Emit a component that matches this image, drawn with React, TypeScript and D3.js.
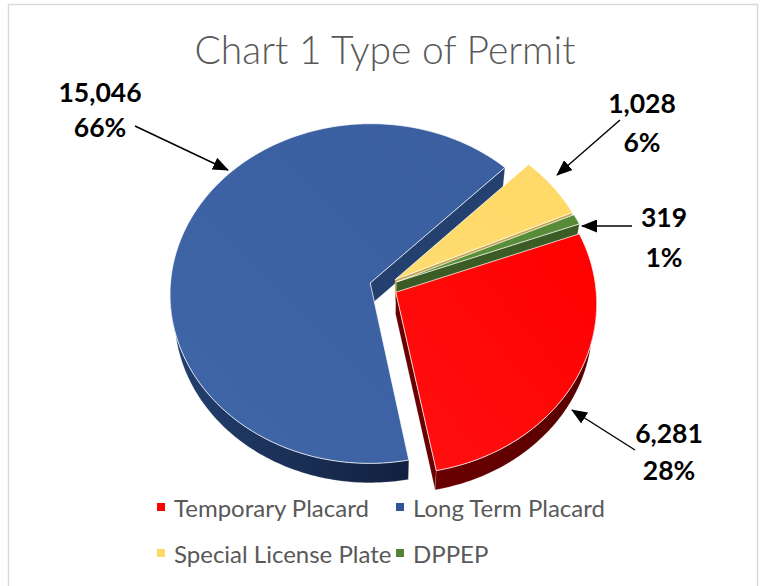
import React from "react";
import * as d3 from "d3";

// ---- data ----
const categories = ["Temporary Placard", "Long Term Placard", "Special License Plate", "DPPEP"];
const counts = [6281, 15046, 1028, 319];
const percentLabels = ["28%", "66%", "6%", "1%"];
const shares = [28, 66, 6, 1];

// ---- styles ----
const topColors = ["#FF0000", "#3A5E9E", "#FFD966", "#568A37"];
const topColorsLight = ["#FF1010", "#3F66A8", "#FFDC70", "#5C923C"];
const sideColors = ["#6A0000", "#24406F", "#C7A54C", "#3B5C24"];
const sideColorsDark = ["#560000", "#11203F", "#B8963E", "#34521F"];
const legendColors = ["#FF0000", "#2F5597", "#FFD966", "#548235"];

// label layout: [countX, countY, pctX, pctY, arrowFromX, arrowFromY, arrowToX, arrowToY]
const calloutLayout = [
  [669, 433, 669, 470, 635, 450, 572, 410],
  [100, 92, 100, 127, 135, 126, 228, 170],
  [642, 103, 642, 142, 620, 120, 557, 175],
  [664, 217, 664, 257, 632, 226, 582, 226],
];

const W = 765, Hh = 586;
const R = 200, H = 42, E = 14, D = 1700;
const ALPHA = (58 * Math.PI) / 180;
const CX = 383.6, CY = 286.4;
const START = (69.5 * Math.PI) / 180;

function proj(X: number, Y: number, Z: number): [number, number] {
  const up = Y * Math.cos(ALPHA) + Z * Math.sin(ALPHA);
  const depth = -Y * Math.sin(ALPHA) + Z * Math.cos(ALPHA);
  const s = D / (D + depth);
  return [CX + X * s, CY - up * s];
}

const fmt = d3.format(",");

export default function App() {
  const pie = d3
    .pie<number>()
    .value((d) => d)
    .sort(null)
    .startAngle(START)
    .endAngle(START + 2 * Math.PI);
  const arcs = pie(shares);

  const line = d3.line<[number, number]>();

  type Part = { d: string; fill: string; z: number; key: string };
  const walls: Part[] = [];
  const tops: Part[] = [];

  arcs.forEach((a, i) => {
    const mid = (a.startAngle + a.endAngle) / 2;
    const ex = E * Math.sin(mid), ez = E * Math.cos(mid);
    const pt = (t: number, r: number, y: number) =>
      proj(r * Math.sin(t) + ex, y, r * Math.cos(t) + ez);
    const samples = (t0: number, t1: number) => {
      const n = Math.max(2, Math.ceil(((t1 - t0) * 180) / Math.PI));
      return d3.range(n + 1).map((k) => t0 + ((t1 - t0) * k) / n);
    };
    // top face
    const topPts: [number, number][] = [pt(0, 0, 0), ...samples(a.startAngle, a.endAngle).map((t) => pt(t, R, 0))];
    tops.push({ d: line(topPts)! + "Z", fill: `url(#top${i})`, z: 0, key: `top${i}` });
    // outer wall (front-facing part only)
    for (let k = -1; k <= 1; k++) {
      const lo = Math.max(a.startAngle, Math.PI / 2 + 2 * Math.PI * k);
      const hi = Math.min(a.endAngle, (3 * Math.PI) / 2 + 2 * Math.PI * k);
      if (lo < hi) {
        const ts = samples(lo, hi);
        const pts = [...ts.map((t) => pt(t, R, 0)), ...ts.slice().reverse().map((t) => pt(t, R, -H))];
        const zc = R * Math.cos((lo + hi) / 2) + ez;
        walls.push({ d: line(pts)! + "Z", fill: `url(#side${i})`, z: zc - 50, key: `ow${i}${k}` });
      }
    }
    // radial walls facing the viewer
    const radial = (t: number, tag: string) => {
      const pts = [pt(t, 0, 0), pt(t, R, 0), pt(t, R, -H), pt(t, 0, -H)];
      const zc = (R / 2) * Math.cos(t) + ez;
      walls.push({ d: line(pts)! + "Z", fill: sideColors[i], z: zc, key: `rw${i}${tag}` });
    };
    if (Math.sin(a.startAngle) < 0) radial(a.startAngle, "s");
    if (Math.sin(a.endAngle) > 0) radial(a.endAngle, "e");
  });

  walls.sort((p, q) => q.z - p.z);

  const font = "Lato, 'Open Sans', sans-serif";

  return (
    <svg width={W} height={Hh} style={{ position: "absolute", left: 0, top: 0, background: "#fff" }}>
      <defs>
        {topColors.map((c, i) => (
          <linearGradient key={`tg${i}`} id={`top${i}`} x1="1" y1="0" x2="0" y2="1">
            <stop offset="0" stopColor={c} />
            <stop offset="1" stopColor={topColorsLight[i]} />
          </linearGradient>
        ))}
        {sideColors.map((c, i) => (
          <linearGradient key={`sg${i}`} id={`side${i}`} x1="0" y1="0" x2="1" y2="0">
            <stop offset="0" stopColor={c} />
            <stop offset="1" stopColor={sideColorsDark[i]} />
          </linearGradient>
        ))}
        <marker id="arrow" viewBox="0 0 16 13" refX="15" refY="6.5" markerWidth="16" markerHeight="13" markerUnits="userSpaceOnUse" orient="auto">
          <path d="M0,0 L16,6.5 L0,13 Z" fill="#000" />
        </marker>
      </defs>
      <rect x={8.5} y={4.5} width={749} height={620} fill="#fff" stroke="#d9d9d9" strokeWidth={1.5} />
      <text x={385} y={64} textAnchor="middle" fontFamily={font} fontWeight={300} fontSize={39} fill="#595959">
        Chart 1 Type of Permit
      </text>
      {walls.map((p) => (
        <path key={p.key} d={p.d} fill={p.fill} stroke="rgba(255,255,255,0.25)" strokeWidth={0.6} strokeLinejoin="round" />
      ))}
      {tops.map((p) => (
        <path key={p.key} d={p.d} fill={p.fill} stroke="rgba(255,255,255,0.75)" strokeWidth={1} strokeLinejoin="round" />
      ))}
      {calloutLayout.map((l, i) => (
        <g key={`lab${i}`}>
          <line x1={l[4]} y1={l[5]} x2={l[6]} y2={l[7]} stroke="#000" strokeWidth={1.4} markerEnd="url(#arrow)" />
          <text x={l[0]} y={l[1]} textAnchor="middle" dominantBaseline="central" fontFamily={font} fontWeight="bold" fontSize={26.5} fill="#000">
            {fmt(counts[i])}
          </text>
          <text x={l[2]} y={l[3]} textAnchor="middle" dominantBaseline="central" fontFamily={font} fontWeight="bold" fontSize={26.5} fill="#000">
            {percentLabels[i]}
          </text>
        </g>
      ))}
      {categories.map((c, i) => {
        const col = i % 2, row = Math.floor(i / 2);
        const x = col === 0 ? 157 : 396;
        const y = row === 0 ? 507 : 553;
        return (
          <g key={c}>
            <rect x={x} y={y - 4} width={8} height={8} fill={legendColors[i]} />
            <text x={x + 17} y={y} dominantBaseline="central" fontFamily={font} fontSize={24} fill="#595959">
              {c}
            </text>
          </g>
        );
      })}
    </svg>
  );
}
